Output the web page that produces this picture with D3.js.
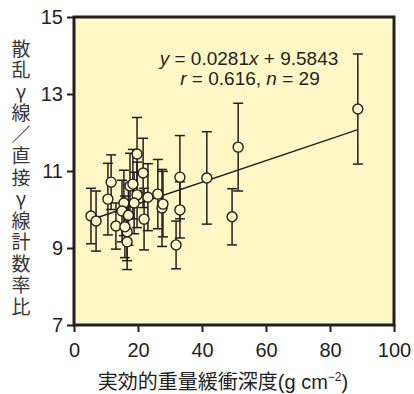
<!DOCTYPE html>
<html>
<head>
<meta charset="utf-8">
<script src="https://cdn.jsdelivr.net/npm/d3@7"></script>
<style>
  body { margin: 0; background: #fff; }
  svg { display: block; }
</style>
</head>
<body>
<svg id="chart" width="414" height="394"></svg>
<script>
// effective mass shielding depth (g cm-2), ratio, half error bar
const depth = [5.3, 6.9, 10.6, 11.6, 13.1, 15.6, 16.6, 16.6, 15.9, 17.5, 18.4, 19.7, 19.7, 18.8, 21.6,
               21.9, 23.1, 26.2, 27.5, 27.8, 33.1, 33.1, 31.9, 41.5, 49.4, 51.3, 88.7, 15.0, 17.0];
const ratio = [9.83, 9.70, 10.27, 10.71, 9.57, 10.17, 9.16, 9.42, 9.55, 10.61, 10.66, 11.44, 10.38, 10.17, 10.95,
               9.75, 10.32, 10.40, 10.04, 10.14, 10.84, 9.99, 9.08, 10.82, 9.81, 11.62, 12.61, 9.96, 9.85];
const errBar = [0.72, 0.78, 0.93, 0.71, 0.60, 0.85, 0.72, 0.75, 0.80, 0.85, 0.90, 0.95, 0.85, 0.80, 0.90,
                0.80, 0.87, 0.90, 1.00, 0.85, 1.08, 0.73, 0.62, 1.20, 0.73, 1.14, 1.43, 0.80, 0.78];

const xTicks = [0, 20, 40, 60, 80, 100];
const yTicks = [7, 9, 11, 13, 15];
const slope = 0.0281, intercept = 9.5843;
const rText = "0.616", nText = "29";
const yTitle = "散乱γ線／直接γ線計数率比";
const xTitle = "実効的重量緩衝深度";

const ink = "#231f20";
const paper = "#fff8c6";
const latin = "'Liberation Sans', Arial, sans-serif";
const cjk = "'Noto Sans CJK JP', sans-serif";

const dim = { left: 74, right: 394, top: 17, bottom: 325 };

const x = d3.scaleLinear().domain([0, 100]).range([dim.left, dim.right]);
const y = d3.scaleLinear().domain([7, 15]).range([dim.bottom, dim.top]);

const svg = d3.select("#chart");

svg.append("rect")
  .attr("x", dim.left).attr("y", dim.top)
  .attr("width", dim.right - dim.left).attr("height", dim.bottom - dim.top)
  .attr("fill", paper);

// axes
const xAxis = svg.append("g")
  .attr("transform", `translate(0,${dim.bottom})`)
  .call(d3.axisBottom(x).tickValues(xTicks).tickSize(7).tickPadding(11));
const yAxis = svg.append("g")
  .attr("transform", `translate(${dim.left},0)`)
  .call(d3.axisLeft(y).tickValues(yTicks).tickSize(7).tickPadding(4));

[xAxis, yAxis].forEach(g => {
  g.select(".domain").remove();
  g.selectAll(".tick line").attr("stroke", ink).attr("stroke-width", 2);
  g.selectAll(".tick text")
    .attr("fill", ink)
    .style("font-family", latin)
    .style("font-size", "20px");
});

// regression line across the data range
const xr = d3.extent(depth);
svg.append("line")
  .attr("x1", x(xr[0])).attr("y1", y(slope * xr[0] + intercept))
  .attr("x2", x(xr[1])).attr("y2", y(slope * xr[1] + intercept))
  .attr("stroke", ink).attr("stroke-width", 1.4);

const pts = depth.map((d, i) => ({ d, r: ratio[i], e: errBar[i] }));

const bars = svg.append("g").attr("stroke", ink).attr("stroke-width", 1.5);
pts.forEach(p => {
  const cx = x(p.d);
  bars.append("line").attr("x1", cx).attr("x2", cx)
    .attr("y1", y(p.r + p.e)).attr("y2", y(p.r - p.e));
  [p.r + p.e, p.r - p.e].forEach(v => {
    bars.append("line").attr("x1", cx - 5).attr("x2", cx + 5)
      .attr("y1", y(v)).attr("y2", y(v));
  });
});

svg.append("g").selectAll("circle")
  .data(pts)
  .enter()
  .append("circle")
  .attr("cx", p => x(p.d))
  .attr("cy", p => y(p.r))
  .attr("r", 5)
  .attr("fill", paper)
  .attr("stroke", ink)
  .attr("stroke-width", 1.4);

// frame
svg.append("rect")
  .attr("x", dim.left).attr("y", dim.top)
  .attr("width", dim.right - dim.left).attr("height", dim.bottom - dim.top)
  .attr("fill", "none").attr("stroke", ink).attr("stroke-width", 3);

// equation
const eq1 = svg.append("text")
  .attr("x", 249).attr("y", 65).attr("text-anchor", "middle")
  .attr("fill", ink).style("font-family", latin).style("font-size", "19px");
eq1.append("tspan").attr("font-style", "italic").text("y");
eq1.append("tspan").text(` = ${slope}`);
eq1.append("tspan").attr("font-style", "italic").text("x");
eq1.append("tspan").text(` + ${intercept}`);

const eq2 = svg.append("text")
  .attr("x", 250).attr("y", 85).attr("text-anchor", "middle")
  .attr("fill", ink).style("font-family", latin).style("font-size", "19px");
eq2.append("tspan").attr("font-style", "italic").text("r");
eq2.append("tspan").text(` = ${rText}, `);
eq2.append("tspan").attr("font-style", "italic").text("n");
eq2.append("tspan").text(` = ${nText}`);

// y title, written vertically
svg.append("text")
  .attr("x", 21)
  .attr("y", 39)
  .attr("fill", "#3a3536")
  .style("writing-mode", "vertical-rl")
  .style("text-orientation", "upright")
  .style("letter-spacing", "2.5px")
  .style("font-family", cjk)
  .style("font-size", "19px")
  .text(yTitle);

// x title
const xt = svg.append("text")
  .attr("x", 223).attr("y", 389).attr("text-anchor", "middle")
  .attr("fill", ink).style("font-family", `${latin.split(",")[0]}, ${cjk}`).style("font-size", "20px");
xt.append("tspan").text(xTitle + "(g cm");
xt.append("tspan").attr("dy", -8).style("font-size", "12px").text("−2");
xt.append("tspan").attr("dy", 8).text(")");
</script>
</body>
</html>
